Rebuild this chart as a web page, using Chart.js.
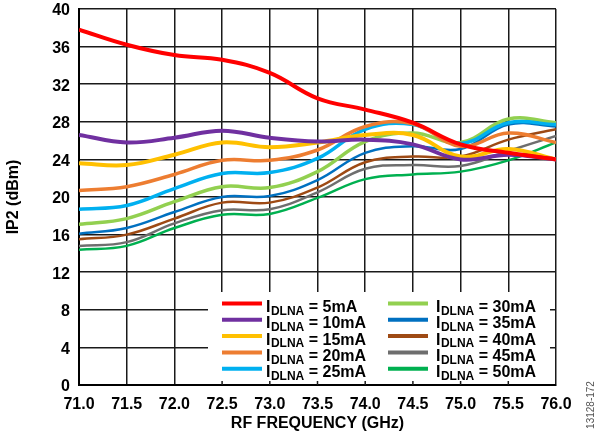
<!DOCTYPE html>
<html lang="en">
<head>
  <meta charset="UTF-8">
  <title>IP2 vs RF Frequency</title>
  <script src="https://cdn.jsdelivr.net/npm/chart.js"></script>
  <style>
    body { margin: 0; background: #fff; }
    #wrap { width: 600px; height: 440px; }
  </style>
</head>
<body>
  <div id="wrap"><canvas id="grafico" width="600" height="440"></canvas></div>

  <script>
    // frequencias (GHz) e IP2 (dBm)
    const freqs = [71.0, 71.5, 72.0, 72.5, 73.0, 73.5, 74.0, 74.5, 75.0, 75.5, 76.0];
    const ip2_5mA  = [37.8, 36.2, 35.1, 34.6, 33.2, 30.5, 29.3, 27.9, 25.6, 24.7, 24.0];
    const ip2_10mA = [26.6, 25.8, 26.3, 27.05, 26.3, 25.9, 26.1, 25.6, 24.0, 24.5, 24.0];
    const ip2_15mA = [23.6, 23.4, 24.5, 25.8, 25.3, 25.8, 26.6, 26.6, 24.3, 25.1, 24.0];
    const ip2_20mA = [20.7, 21.1, 22.4, 23.9, 23.9, 25.0, 27.5, 27.8, 25.4, 26.8, 25.8];
    const ip2_25mA = [18.7, 19.1, 20.9, 22.5, 22.6, 24.1, 27.2, 27.7, 25.7, 27.9, 27.7];
    const ip2_30mA = [17.1, 17.7, 19.5, 21.1, 21.0, 22.7, 25.9, 26.8, 25.8, 28.3, 27.9];
    const ip2_35mA = [16.1, 16.7, 18.4, 20.0, 20.1, 21.8, 24.7, 25.4, 25.1, 27.7, 27.5];
    const ip2_40mA = [15.5, 16.0, 17.7, 19.4, 19.4, 21.0, 23.7, 24.3, 24.3, 26.1, 27.2];
    const ip2_45mA = [14.8, 15.2, 17.2, 18.6, 18.7, 20.5, 23.0, 23.4, 23.3, 24.9, 26.5];
    const ip2_50mA = [14.4, 14.8, 16.7, 18.1, 18.2, 19.9, 21.9, 22.4, 22.7, 23.9, 25.8];
    const correntes = ['5mA', '10mA', '15mA', '20mA', '25mA', '30mA', '35mA', '40mA', '45mA', '50mA'];
    const series = [ip2_5mA, ip2_10mA, ip2_15mA, ip2_20mA, ip2_25mA, ip2_30mA, ip2_35mA, ip2_40mA, ip2_45mA, ip2_50mA];

    const cores = ['#FF0000', '#7030A0', '#FFC000', '#ED7D31', '#00B0F0', '#92D050', '#0070C0', '#9E4A14', '#6E6E6E', '#00B050'];
    const larguras = [4, 4, 4, 3.5, 3.5, 3.5, 2.5, 2.5, 2.5, 2.5];
    const fonte = "'Liberation Sans', Arial, sans-serif";

    const datasets = series.map(function (vals, i) {
      return {
        label: 'IDLNA = ' + correntes[i],
        data: vals.map(function (v, j) { return { x: freqs[j], y: v }; }),
        borderColor: cores[i],
        borderWidth: larguras[i],
        pointRadius: 0,
        tension: 0.4,
        fill: false
      };
    });

    // legenda com subscrito, desenhada dentro do grafico
    const legendaIDLNA = {
      id: 'legendaIDLNA',
      beforeDatasetsDraw(chart) {
        const ctx = chart.ctx;
        const a = chart.chartArea;
        const xs = chart.scales.x;
        ctx.save();
        ctx.fillStyle = '#fff';
        ctx.fillRect(208, 292, 342, a.bottom - 293);
        // pequenos ticks internos no eixo x
        ctx.strokeStyle = '#1a1a1a';
        ctx.lineWidth = 1.5;
        xs.ticks.forEach(function (t) {
          const px = xs.getPixelForValue(t.value);
          if (px > 208 && px < 550) {
            ctx.beginPath();
            ctx.moveTo(px, a.bottom);
            ctx.lineTo(px, a.bottom - 4);
            ctx.stroke();
          }
        });
        ctx.restore();
      },
      afterDatasetsDraw(chart) {
        const ctx = chart.ctx;
        ctx.save();
        ctx.textBaseline = 'alphabetic';
        ctx.fillStyle = '#000';
        for (let i = 0; i < correntes.length; i++) {
          const col = Math.floor(i / 5);
          const row = i % 5;
          const lx = col === 0 ? 222 : 388;
          const ly = 303.5 + row * 16.3;
          ctx.strokeStyle = cores[i];
          ctx.lineWidth = 4;
          ctx.beginPath();
          ctx.moveTo(lx, ly);
          ctx.lineTo(lx + 40, ly);
          ctx.stroke();
          let tx = lx + (col === 0 ? 44 : 48);
          const base = ly + 8.5;
          ctx.font = 'bold 16px ' + fonte;
          ctx.fillText('I', tx, base);
          tx += ctx.measureText('I').width + 0.5;
          ctx.font = 'bold 12px ' + fonte;
          ctx.fillText('DLNA', tx, base + 2.8);
          tx += ctx.measureText('DLNA').width;
          ctx.font = 'bold 16px ' + fonte;
          ctx.fillText(' = ' + correntes[i], tx, base);
        }
        ctx.restore();
      },
      afterDraw(chart) {
        const ctx = chart.ctx;
        ctx.save();
        ctx.translate(591, 405);
        ctx.rotate(-Math.PI / 2);
        ctx.font = '10px ' + fonte;
        ctx.fillStyle = '#555';
        ctx.textAlign = 'center';
        ctx.textBaseline = 'middle';
        ctx.fillText('13128-172', 0, 0);
        ctx.restore();
      }
    };

    new Chart(document.getElementById('grafico'), {
      type: 'line',
      data: { datasets: datasets },
      options: {
        responsive: false,
        animation: false,
        layout: { padding: { top: 9, right: 44, left: 0, bottom: 0 } },
        plugins: {
          legend: { display: false },
          tooltip: { enabled: false }
        },
        scales: {
          x: {
            type: 'linear',
            min: 71,
            max: 76,
            afterFit: function (s) {
              s.height = 55;
              s.paddingLeft = 0;
              s.paddingRight = 0;
            },
            grid: { color: '#1a1a1a', lineWidth: 1.5, drawTicks: false },
            border: { color: '#000', width: 2 },
            ticks: {
              stepSize: 0.5,
              padding: 10,
              color: '#000',
              font: { family: fonte, size: 16, weight: 'bold' },
              callback: function (v) { return Number(v).toFixed(1); }
            },
            title: {
              display: true,
              text: 'RF FREQUENCY (GHz)',
              color: '#000',
              padding: { top: 0, bottom: 7 },
              font: { family: fonte, size: 16, weight: 'bold' }
            }
          },
          y: {
            min: 0,
            max: 40,
            afterFit: function (s) {
              s.width = 79;
              s.paddingTop = 0;
              s.paddingBottom = 0;
            },
            grid: { color: '#1a1a1a', lineWidth: 1.5, drawTicks: false },
            border: { color: '#000', width: 2 },
            ticks: {
              stepSize: 4,
              padding: 9,
              labelOffset: 2,
              color: '#000',
              font: { family: fonte, size: 16, weight: 'bold' }
            },
            title: {
              display: true,
              text: 'IP2 (dBm)',
              color: '#000',
              padding: { top: 4, bottom: 4 },
              font: { family: fonte, size: 16, weight: 'bold' }
            }
          }
        }
      },
      plugins: [legendaIDLNA]
    });
  </script>
</body>
</html>
